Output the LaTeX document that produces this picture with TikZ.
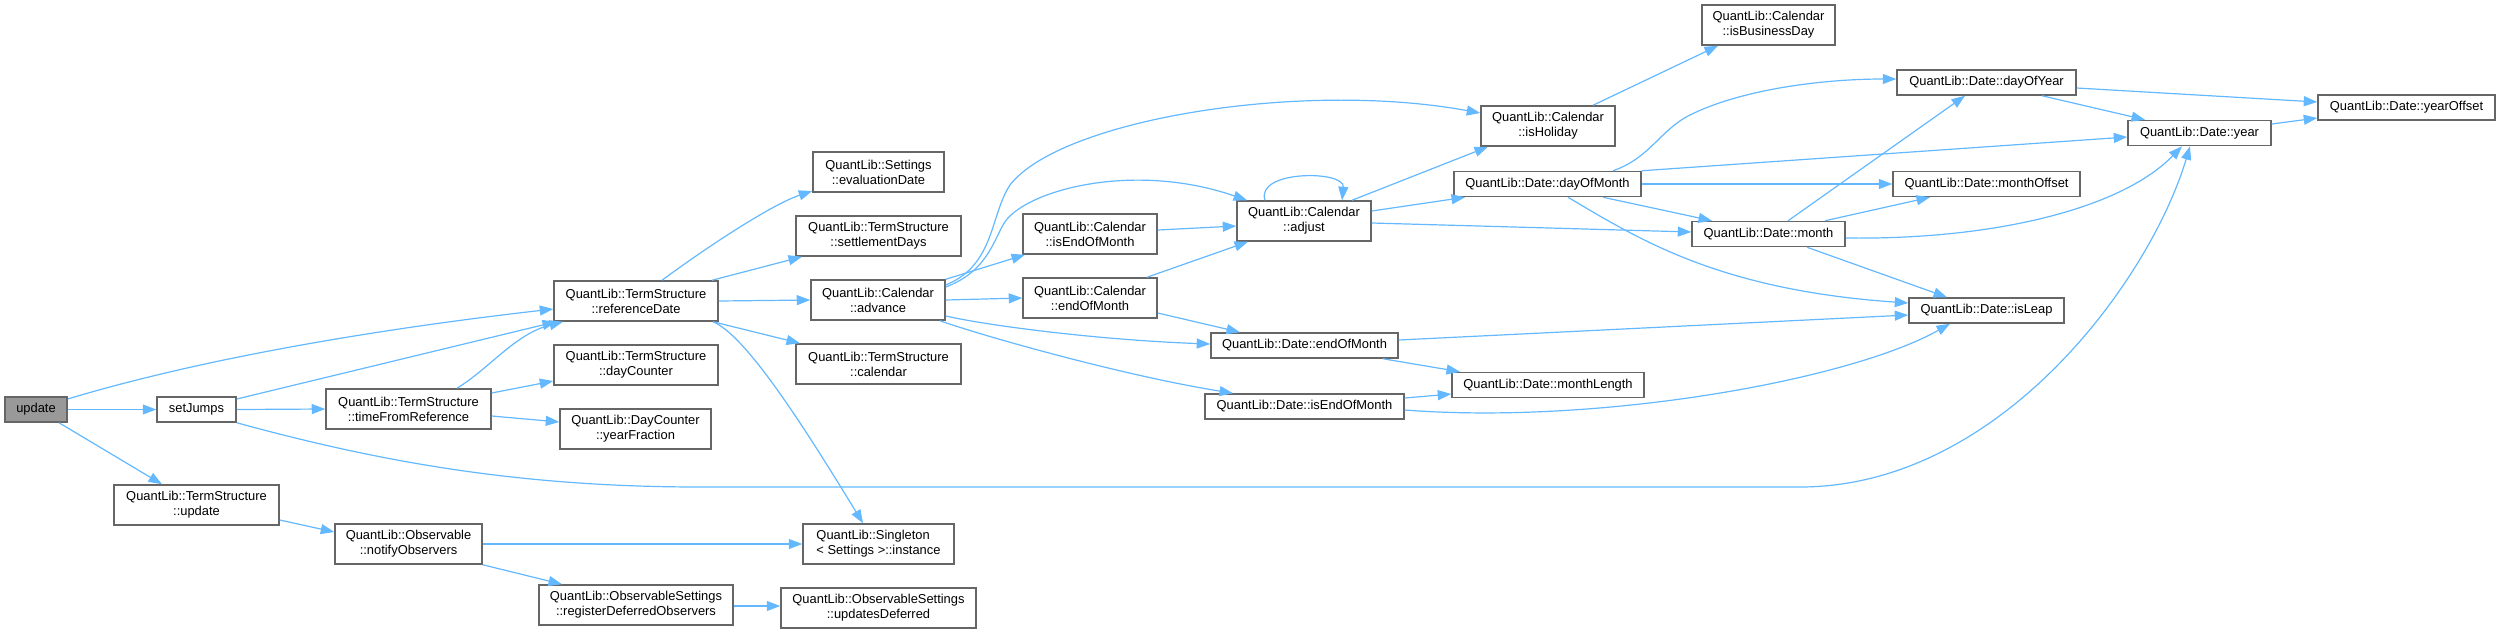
\documentclass[tikz,border=0pt]{standalone}
\usepackage{fontspec}
\setmainfont{Liberation Sans}
\usetikzlibrary{arrows.meta}
\definecolor{edgeblue}{HTML}{63B8FF}
\definecolor{boxgray}{HTML}{666666}
\definecolor{fillgray}{HTML}{999999}
\begin{document}
\begin{tikzpicture}[x=1pt,y=-1pt,
  box/.style={draw=boxgray, line width=1.5pt, fill=white, rectangle, inner sep=0pt, align=center, font=\fontsize{12.9}{15}\selectfont, text=black},
  one/.style={box, minimum height=25pt},
  two/.style={box, minimum height=40pt},
  e/.style={draw=edgeblue, line width=1.2pt, -{Triangle[length=13.5pt,width=10pt]}},
]
\useasboundingbox (0,0) rectangle (2500,633);
% nodes
\node[one, fill=fillgray, minimum width=62pt] (upd) at (36,409.5) {update};
\node[one, minimum width=79pt] (setj) at (196.5,409.5) {setJumps};
\node[two, minimum width=165pt] (tsupd) at (196.5,505) {QuantLib::TermStructure\\::update};
\node[two, minimum width=165pt] (tfr) at (408.5,409) {QuantLib::TermStructure\\::timeFromReference};
\node[two, minimum width=147pt] (notif) at (408.5,544) {QuantLib::Observable\\::notifyObservers};
\node[two, minimum width=164pt] (refd) at (636,301) {QuantLib::TermStructure\\::referenceDate};
\node[two, minimum width=164pt] (dayc) at (636,365) {QuantLib::TermStructure\\::dayCounter};
\node[two, minimum width=151pt] (yfrac) at (635.5,429) {QuantLib::DayCounter\\::yearFraction};
\node[two, minimum width=194pt] (regdef) at (636,605) {QuantLib::ObservableSettings\\::registerDeferredObservers};
\node[two, minimum width=131pt] (evald) at (878.5,172) {QuantLib::Settings\\::evaluationDate};
\node[two, minimum width=165pt] (settl) at (878.5,236) {QuantLib::TermStructure\\::settlementDays};
\node[two, minimum width=134pt] (adv) at (878,300) {QuantLib::Calendar\\::advance};
\node[two, minimum width=165pt] (cal) at (878.5,364) {QuantLib::TermStructure\\::calendar};
\node[two, minimum width=151pt, align=left] (singl) at (878.5,544) {QuantLib::Singleton\\< Settings >::instance};
\node[two, minimum width=195pt] (upddef) at (878.5,608) {QuantLib::ObservableSettings\\::updatesDeferred};
\node[two, minimum width=134pt] (cisend) at (1090,234) {QuantLib::Calendar\\::isEndOfMonth};
\node[two, minimum width=134pt] (cend) at (1090,298) {QuantLib::Calendar\\::endOfMonth};
\node[two, minimum width=134pt] (adj) at (1304,221) {QuantLib::Calendar\\::adjust};
\node[one, minimum width=187pt] (dend) at (1304.5,345.5) {QuantLib::Date::endOfMonth};
\node[one, minimum width=199pt] (disend) at (1304.5,406.5) {QuantLib::Date::isEndOfMonth};
\node[two, minimum width=134pt] (hol) at (1548,126) {QuantLib::Calendar\\::isHoliday};
\node[one, minimum width=187pt] (dom) at (1547.5,184) {QuantLib::Date::dayOfMonth};
\node[one, minimum width=192pt] (mlen) at (1548,385) {QuantLib::Date::monthLength};
\node[two, minimum width=133pt] (busd) at (1768.5,25) {QuantLib::Calendar\\::isBusinessDay};
\node[one, minimum width=153pt] (month) at (1768.5,234) {QuantLib::Date::month};
\node[one, minimum width=179pt] (doy) at (1986.5,82.5) {QuantLib::Date::dayOfYear};
\node[one, minimum width=187pt] (moff) at (1986.5,184) {QuantLib::Date::monthOffset};
\node[one, minimum width=155pt] (leap) at (1986.5,310.5) {QuantLib::Date::isLeap};
\node[one, minimum width=143pt] (year) at (2199.5,133) {QuantLib::Date::year};
\node[one, minimum width=177pt] (yoff) at (2406.5,107.5) {QuantLib::Date::yearOffset};
% edges
\draw[e] (upd.east) -- (setj.west);
\draw[e] ([xshift=23pt]upd.south) -- ([xshift=-34.5pt]tsupd.north);
\draw[e] ([yshift=10.5pt]upd.east) .. controls (217,354) and (404,326) .. ([yshift=-8pt]refd.west);
\draw[e] ([yshift=10.5pt]setj.east) -- ([xshift=-80pt]refd.south);
\draw[e] (setj.east) -- (tfr.west);
\draw[e] (setj.south east) .. controls (380,462) and (520,487) .. (700,487) -- (1800,487) .. controls (2000,487) and (2150,280) .. ([xshift=-9.5pt]year.south);
\draw[e] ([xshift=48.5pt]tfr.north) .. controls (490,368) and (515,334) .. ([xshift=-73pt]refd.south);
\draw[e] ([yshift=16pt]tfr.east) -- ([yshift=-16pt]dayc.west);
\draw[e] ([yshift=-7pt]tfr.east) -- ([yshift=7pt]yfrac.west);
\draw[e] ([yshift=-15pt]tsupd.east) -- ([yshift=12pt]notif.west);
\draw[e] (notif.east) -- (singl.west);
\draw[e] (notif.south east) -- ([xshift=-74pt]regdef.north);
\draw[e] ([yshift=-1pt]regdef.east) -- ([yshift=2pt]upddef.west);
\draw[e] ([xshift=26pt]refd.north) .. controls (700,252) and (770,205) .. ([yshift=-19pt]evald.west);
\draw[e] ([xshift=76pt]refd.north) -- ([xshift=-76.5pt]settl.south);
\draw[e] (refd.east) -- (adv.west);
\draw[e] ([xshift=77pt]refd.south) -- ([xshift=-78.5pt]cal.north);
\draw[e] ([xshift=77pt]refd.south) .. controls (745,335) and (800,420) .. ([xshift=-15.5pt]singl.north);
\draw[e] ([yshift=15pt]adv.east) .. controls (995,265) and (990,215) .. (1010,185) .. controls (1060,120) and (1300,80) .. ([yshift=13pt]hol.west);
\draw[e] ([yshift=13pt]adv.east) .. controls (985,272) and (992,245) .. (1003,225) .. controls (1020,192) and (1130,160) .. ([xshift=-57pt]adj.north);
\draw[e] (adv.north east) -- ([xshift=-65pt]cisend.south);
\draw[e] (adv.east) -- (cend.west);
\draw[e] ([yshift=-16pt]adv.east) .. controls (990,326) and (1100,340) .. ([yshift=1.5pt]dend.west);
\draw[e] ([xshift=62pt]adv.south) .. controls (980,335) and (1120,375) .. ([xshift=-71.5pt]disend.north);
\draw[e] ([yshift=4pt]cisend.east) -- ([yshift=-5pt]adj.west);
\draw[e] ([xshift=57pt]cend.north) -- ([xshift=-56pt]adj.south);
\draw[e] ([yshift=-15pt]cend.east) -- ([xshift=-64.5pt]dend.north);
\draw[e] ([xshift=-39pt]adj.north) .. controls (1255,170) and (1345,170) .. ([xshift=38pt]adj.north);
\draw[e] ([xshift=48pt]adj.north) -- ([xshift=-60pt]hol.south);
\draw[e] ([yshift=10pt]adj.east) -- ([xshift=-82.5pt]dom.south);
\draw[e] ([yshift=-2pt]adj.east) -- ([yshift=2pt]month.west);
\draw[e] ([xshift=45pt]hol.north) -- ([xshift=-50.5pt]busd.south);
\draw[e] ([xshift=65.5pt]dom.north) .. controls (1650,158) and (1660,130) .. (1690,115) .. controls (1740,90) and (1820,79) .. ([yshift=3.5pt]doy.west);
\draw[e] (dom.north east) -- ([yshift=-4pt]year.west);
\draw[e] (dom.east) -- (moff.west);
\draw[e] ([xshift=55.5pt]dom.south) -- ([xshift=-56.5pt]month.north);
\draw[e] ([xshift=20.5pt]dom.south) .. controls (1640,240) and (1720,290) .. ([yshift=7.5pt]leap.west);
\draw[e] ([xshift=78.5pt]dend.south) -- ([xshift=-88pt]mlen.north);
\draw[e] ([yshift=5.5pt]dend.east) -- ([yshift=-4.5pt]leap.west);
\draw[e] ([yshift=8.5pt]disend.east) -- ([yshift=-9pt]mlen.west);
\draw[e] ([yshift=-3.5pt]disend.east) .. controls (1600,425) and (1850,380) .. ([xshift=-36.5pt]leap.south);
\draw[e] ([xshift=19.5pt]month.north) -- ([xshift=-21.5pt]doy.south);
\draw[e] ([xshift=56.5pt]month.north) -- ([xshift=-56.5pt]moff.south);
\draw[e] ([yshift=-4pt]month.east) .. controls (1990,240) and (2120,210) .. ([xshift=-17.5pt]year.south);
\draw[e] ([xshift=38.5pt]month.south) -- ([xshift=-39.5pt]leap.north);
\draw[e] ([yshift=-5.5pt]doy.east) -- ([yshift=5.5pt]yoff.west);
\draw[e] ([xshift=55.5pt]doy.south) -- ([xshift=-54.5pt]year.north);
\draw[e] ([yshift=9pt]year.east) -- ([yshift=-10.5pt]yoff.west);
\end{tikzpicture}
\end{document}
